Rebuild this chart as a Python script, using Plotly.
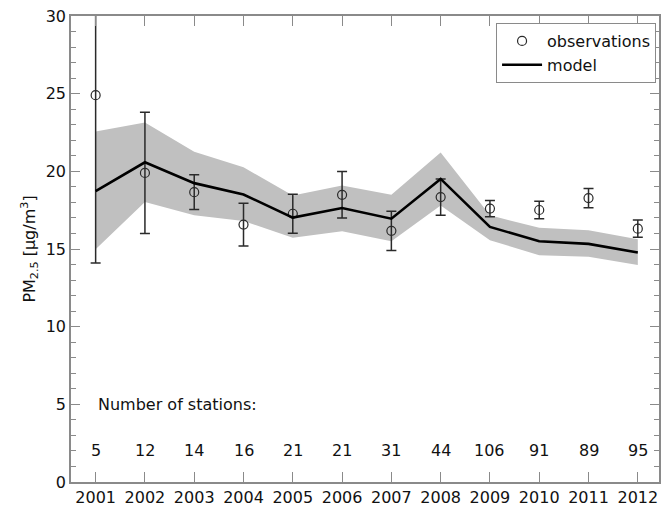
import plotly.graph_objects as go

years = [2001, 2002, 2003, 2004, 2005, 2006, 2007, 2008, 2009, 2010, 2011, 2012]

# Observed annual mean PM2.5 and its uncertainty (half-width of error bar)
obs_mean = [24.9, 19.9, 18.66, 16.57, 17.27, 18.49, 16.17, 18.34, 17.6, 17.51, 18.28, 16.31]
obs_err = [10.8, 3.9, 1.12, 1.37, 1.25, 1.5, 1.26, 1.16, 0.53, 0.57, 0.62, 0.56]

# Modelled PM2.5 with its spread
model_mean = [18.73, 20.58, 19.24, 18.51, 17.02, 17.64, 16.95, 19.51, 16.42, 15.5, 15.33, 14.77]
model_upper = [22.56, 23.14, 21.26, 20.26, 18.45, 19.09, 18.49, 21.22, 17.17, 16.36, 16.2, 15.63]
model_lower = [14.99, 18.02, 17.17, 16.8, 15.72, 16.14, 15.5, 17.8, 15.57, 14.6, 14.5, 13.97]

# Stations contributing each year
n_stations = [5, 12, 14, 16, 21, 21, 31, 44, 106, 91, 89, 95]

FONT = "DejaVu Sans, Verdana, sans-serif"
FS = 16
TXT = "#111111"
AXIS_GRAY = "#8a8a8a"

fig = go.Figure()

# Model spread band
fig.add_trace(go.Scatter(
    x=years, y=model_upper, mode="lines", line=dict(width=0),
    showlegend=False, hoverinfo="skip"))
fig.add_trace(go.Scatter(
    x=years, y=model_lower, mode="lines", line=dict(width=0),
    fill="tonexty", fillcolor="#c0c0c0", showlegend=False, hoverinfo="skip"))

# Observations with error bars
fig.add_trace(go.Scatter(
    x=years, y=obs_mean, mode="markers", name="observations",
    marker=dict(symbol="circle-open", size=9, color="#2a2a2a",
                line=dict(width=1.2, color="#2a2a2a")),
    error_y=dict(type="data", array=obs_err, visible=True,
                 color="#2a2a2a", thickness=1.5, width=5)))

# Model line
fig.add_trace(go.Scatter(
    x=years, y=model_mean, mode="lines", name="model",
    line=dict(color="black", width=2.6)))

# Station counts
annotations = [dict(x=2001, y=5, xref="x", yref="y", text="Number of stations:",
                    showarrow=False, xanchor="left", yanchor="middle",
                    font=dict(family=FONT, size=FS, color=TXT))]
for yr, n in zip(years, n_stations):
    annotations.append(dict(x=yr, y=2, xref="x", yref="y", text=str(n),
                            showarrow=False, xanchor="center", yanchor="middle",
                            font=dict(family=FONT, size=FS, color=TXT)))

fig.update_layout(
    width=662, height=508,
    margin=dict(l=71, r=1, t=16, b=23),
    paper_bgcolor="white", plot_bgcolor="white",
    font=dict(family=FONT, size=FS, color=TXT),
    showlegend=True,
    legend=dict(x=0.995, y=0.985, xanchor="right", yanchor="top",
                traceorder="normal",
                bgcolor="white", bordercolor=AXIS_GRAY, borderwidth=1,
                font=dict(family=FONT, size=FS, color=TXT),
                tracegroupgap=0, itemwidth=40),
    annotations=annotations,
)

fig.update_xaxes(
    range=[2000.5, 2012.43], tickmode="array", tickvals=years,
    ticktext=[str(y) for y in years],
    showgrid=False, zeroline=False,
    showline=True, linecolor=AXIS_GRAY, linewidth=1.5, mirror="allticks",
    ticks="inside", ticklen=10, tickcolor=AXIS_GRAY, tickwidth=1.2,
    tickfont=dict(family=FONT, size=FS, color=TXT),
)
fig.update_yaxes(
    range=[0, 30], tickmode="array", tickvals=[0, 5, 10, 15, 20, 25, 30],
    showgrid=False, zeroline=False,
    showline=True, linecolor=AXIS_GRAY, linewidth=1.5, mirror="allticks",
    ticks="inside", ticklen=9, tickcolor=AXIS_GRAY, tickwidth=1.2,
    minor=dict(ticks="inside", ticklen=5, dtick=1, tickcolor=AXIS_GRAY, tickwidth=1, showgrid=False),
    tickfont=dict(family=FONT, size=FS, color=TXT),
    title=dict(text="PM<sub>2.5</sub> [μg/m<sup>3</sup>]", standoff=6,
               font=dict(family=FONT, size=FS, color=TXT)),
)

fig.write_html("out.html")
